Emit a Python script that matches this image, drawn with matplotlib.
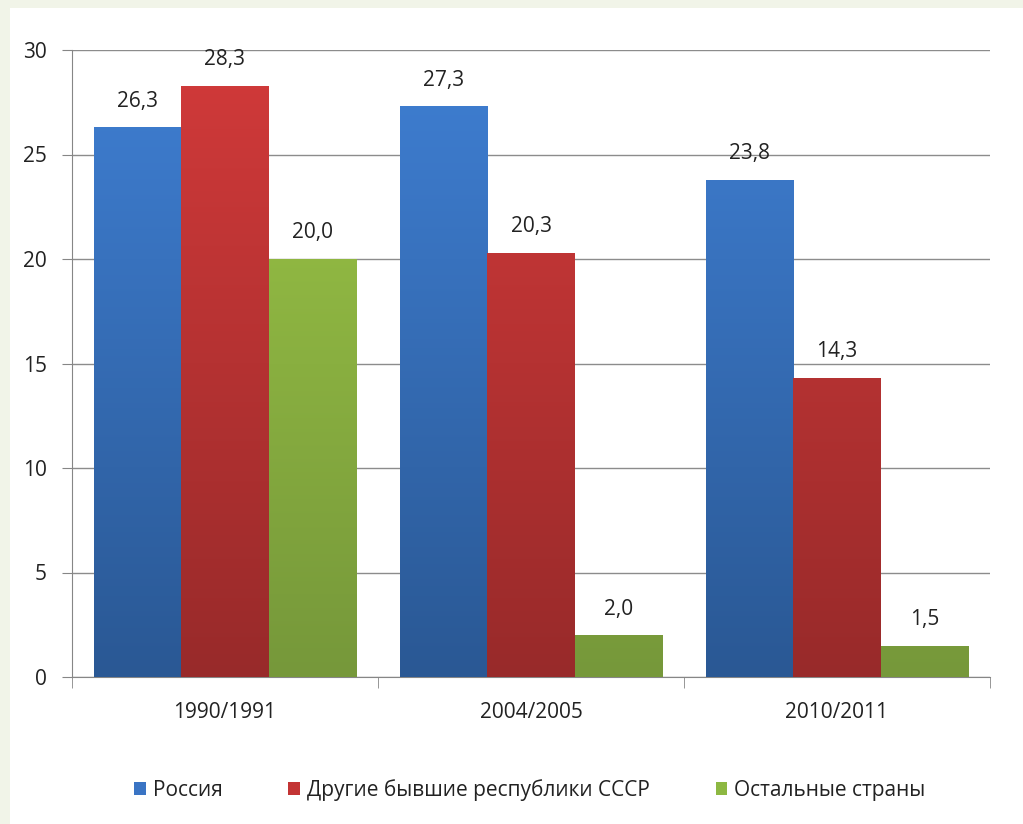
import matplotlib
matplotlib.use('Agg')
import matplotlib.pyplot as plt
import numpy as np
from matplotlib.colors import LinearSegmentedColormap
from matplotlib.patches import Rectangle, Patch

plt.rcParams['font.family'] = ['Open Sans', 'DejaVu Sans']

years = ['1990/1991', '2004/2005', '2010/2011']
series = ['Россия', 'Другие бывшие республики СССР', 'Остальные страны']
russia = [26.3, 27.3, 23.8]
other_ussr = [28.3, 20.3, 14.3]
other_countries = [20.0, 2.0, 1.5]
values = [russia, other_ussr, other_countries]

# top / bottom colours for the gradient fill
top_colors = ['#3f7fd3', '#d23a3a', '#9cc646']
bot_colors = ['#2a5894', '#982a2a', '#76983a']
legend_colors = ['#3a74c4', '#c33434', '#8db842']

fig = plt.figure(figsize=(10.23, 8.24), dpi=100)
fig.patch.set_facecolor('#f1f4e8')
fig.patches.append(Rectangle((10 / 1023, 0), 1, 1 - 8 / 824, transform=fig.transFigure,
                             facecolor='white', edgecolor='none', zorder=-10))

ax = fig.add_axes([72 / 1023, 1 - 677 / 824, 918 / 1023, 627 / 824])
ax.set_facecolor('white')

n = len(series)
width = 1 / (n + 0.5)
x = np.arange(len(years))

for i in range(n):
    cmap = LinearSegmentedColormap.from_list('g%d' % i, [bot_colors[i], top_colors[i]])
    pos = x - 0.5 + width * 0.25 + width * i + width / 2
    bars = ax.bar(pos, values[i], width, color='none', edgecolor='none', zorder=3)
    for b, v in zip(bars, values[i]):
        grad = np.linspace(0, 1, 256).reshape(-1, 1)
        im = ax.imshow(grad, cmap=cmap, origin='lower', aspect='auto',
                       extent=[b.get_x(), b.get_x() + b.get_width(), 0, 30], zorder=3)
        im.set_clip_path(b)
        ax.text(b.get_x() + b.get_width() / 2, v + 0.75, ('%.1f' % v).replace('.', ','),
                ha='center', va='bottom', fontsize=15, color='#222222', zorder=4)

ax.set_xlim(-0.5, len(years) - 0.5)
ax.set_ylim(0, 30)

ax.set_yticks(range(0, 31, 5))
ax.set_xticks(x)
ax.set_xticklabels(years)
ax.set_xticks(np.arange(-0.5, len(years)), minor=True)
ax.tick_params(axis='x', which='major', length=0, pad=18, labelsize=15, colors='#222222')
ax.tick_params(axis='x', which='minor', length=8, color='#868686', direction='out')
ax.tick_params(axis='y', length=7, color='#868686', pad=11, labelsize=15, labelcolor='#222222')
ax.grid(axis='y', color='#8c8c8c', linewidth=1)
ax.set_axisbelow(True)
for s in ['top', 'right']:
    ax.spines[s].set_visible(False)
for s in ['left', 'bottom']:
    ax.spines[s].set_color('#868686')

handles = [Patch(facecolor=c, edgecolor='none') for c in legend_colors]
fig.legend(handles, series, loc='center', bbox_to_anchor=(0.518, 1 - 790 / 824), ncol=3,
           frameon=False, fontsize=15, handlelength=0.55, handleheight=0.55,
           handletextpad=0.35, columnspacing=3.15, labelcolor='#222222')

fig.savefig('out.png', dpi=100, facecolor=fig.get_facecolor())
